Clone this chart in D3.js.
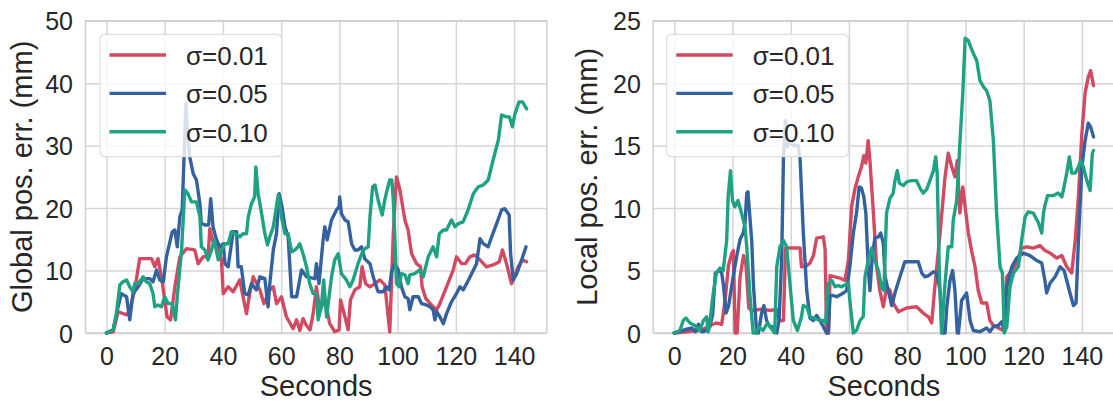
<!DOCTYPE html>
<html><head><meta charset="utf-8">
<script src="https://cdn.jsdelivr.net/npm/d3@7"></script>
<style>
html,body{margin:0;padding:0;background:#fff;}
svg{display:block;font-family:"Liberation Sans",Arial,sans-serif;}
</style></head>
<body>
<svg id="chart" width="1113" height="403"></svg>
<script>
// ---------------- data ----------------
const seriesLabels = ["σ=0.01", "σ=0.05", "σ=0.10"];
const seriesColors = ["#d24a61", "#34629e", "#1fa284"];
const xTicks = [0, 20, 40, 60, 80, 100, 120, 140];
const globalYTicks = [0, 10, 20, 30, 40, 50];
const localYTicks = [0, 5, 10, 15, 20, 25];
const xLabel = "Seconds";
const globalYLabel = "Global pos. err. (mm)";
const localYLabel = "Local pos. err. (mm)";

// Global position error (mm) — [seconds, value]
const globalS001 = [[0,0],[2.3,0.2],[4.0,3.4],[6.9,2.9],[8.0,3.7],[9.7,6.9],[11.4,11.9],[15.5,11.9],[16.6,10.6],[17.7,11.9],[18.9,9.0],[20.8,2.6],[22.0,2.1],[23.5,7.4],[25.2,12.2],[27.5,13.5],[30.3,13.3],[31.5,11.1],[33.2,12.2],[34.9,12.2],[35.5,16.7],[36.6,14.6],[37.8,14.9],[39.5,11.7],[40.1,6.3],[41.8,7.4],[43.5,6.6],[45.8,8.5],[46.7,6.3],[48.1,3.1],[49.2,6.3],[50.4,9.0],[52.7,6.9],[54.1,4.7],[56.1,6.9],[57.3,7.4],[58.4,4.7],[60.1,5.8],[61.8,2.6],[64.1,0.7],[65.3,2.1],[66.4,0.4],[67.5,2.3],[68.7,1.2],[69.9,0.5],[71.0,3.1],[72.1,7.4],[73.3,3.7],[75.0,5.3],[76.7,1.5],[78.4,0.2],[79.9,0.5],[80.4,5.3],[81.9,2.6],[83.0,0.5],[83.8,5.3],[85.3,6.9],[87.0,7.4],[87.8,10.6],[89.0,7.9],[90.5,7.4],[91.6,7.7],[93.9,8.5],[95.6,7.7],[96.4,4.2],[97.3,0.2],[98.5,15.9],[99.6,25.0],[100.8,22.9],[102.5,18.1],[103.6,16.5],[104.8,12.7],[106.5,11.1],[107.9,10.6],[108.4,7.4],[109.7,5.5],[111.6,4.5],[113.4,3.7],[114.5,4.7],[116.8,7.4],[119.1,10.1],[120.2,12.2],[122.0,11.1],[123.3,11.1],[124.8,12.2],[126.5,12.5],[128.3,11.7],[130.5,10.6],[132.8,10.9],[134.9,11.4],[136.0,13.3],[137.4,11.1],[139.1,7.9],[139.7,8.5],[141.4,10.6],[142.9,11.7],[144.3,11.4]];
const globalS005 = [[0,0],[2.3,0.5],[4.0,4.2],[5.1,6.3],[6.9,5.8],[8.0,2.1],[9.1,6.3],[10.9,7.4],[12.6,8.7],[14.9,8.7],[16.0,8.2],[17.2,10.1],[18.3,8.5],[19.5,8.2],[20.6,12.2],[22.6,16.2],[23.5,16.5],[24.3,13.8],[25.2,18.6],[26.0,19.7],[27.3,36.7],[27.7,33.0],[28.6,28.2],[29.8,25.5],[30.9,24.5],[32.1,20.7],[32.6,17.5],[33.8,17.3],[35.1,17.3],[35.8,21.5],[36.6,17.0],[37.8,14.9],[38.9,13.8],[40.1,14.3],[40.7,11.1],[41.8,10.6],[43.5,16.2],[44.7,16.2],[45.2,10.6],[46.3,10.6],[47.5,6.3],[48.7,6.1],[49.8,7.9],[51.5,6.9],[52.7,9.0],[54.4,8.7],[55.5,4.2],[56.1,7.9],[57.3,13.3],[58.4,15.9],[59.3,22.3],[60.3,20.2],[61.3,17.0],[62.4,15.4],[63.6,5.8],[65.3,5.8],[67.0,10.1],[68.7,9.0],[71.6,8.7],[72.1,11.1],[73.0,7.9],[74.4,14.9],[75.0,17.0],[75.8,14.9],[77.3,18.1],[79.0,19.7],[79.9,20.2],[80.1,21.8],[80.7,19.1],[81.9,18.1],[83.0,17.8],[84.2,14.3],[85.3,13.3],[86.4,13.3],[87.6,13.8],[88.7,11.9],[90.5,11.1],[91.6,9.0],[93.3,6.6],[95.0,6.6],[96.2,7.4],[97.1,6.9],[97.9,9.8],[99.0,11.1],[100.2,10.1],[101.3,7.4],[102.5,5.8],[103.6,5.5],[104.2,3.7],[105.3,5.8],[107.1,5.8],[108.2,4.7],[109.9,4.5],[111.1,4.2],[112.2,3.7],[112.8,2.1],[113.4,3.4],[114.5,2.6],[115.7,1.5],[116.8,3.1],[118.5,5.0],[120.2,6.3],[121.4,7.4],[122.5,6.9],[123.7,7.9],[125.4,9.5],[127.1,11.1],[128.3,15.1],[129.4,14.3],[131.1,13.8],[132.3,15.4],[134.0,17.5],[135.7,19.7],[136.8,19.9],[138.3,18.9],[138.8,12.7],[139.7,8.5],[140.9,9.5],[142.6,11.7],[144.1,13.8]];
const globalS010 = [[0,0],[2.3,0.5],[3.4,3.1],[4.6,7.7],[5.7,8.2],[6.9,8.5],[8.0,7.4],[9.1,6.6],[9.7,7.9],[10.9,7.9],[12.6,9.0],[13.7,8.2],[14.9,7.9],[16.0,6.3],[16.6,4.2],[17.7,4.5],[18.9,4.2],[20.0,5.8],[21.2,4.7],[22.6,4.7],[23.7,2.1],[24.4,6.3],[25.8,13.3],[26.9,22.9],[28.0,22.3],[29.2,21.0],[30.9,21.0],[32.1,18.6],[32.6,13.8],[33.8,13.3],[34.9,11.7],[36.1,13.3],[37.0,14.9],[38.4,11.7],[39.5,13.3],[40.7,14.3],[41.8,14.3],[42.9,16.2],[44.1,15.9],[45.8,15.4],[46.9,15.9],[48.1,15.9],[48.7,18.6],[49.8,20.7],[50.9,21.8],[51.3,26.6],[52.1,22.3],[53.3,19.1],[54.4,15.9],[55.3,14.1],[56.1,15.4],[57.3,17.0],[59.0,22.1],[60.1,18.6],[61.3,15.9],[62.4,15.9],[63.6,13.0],[64.7,13.3],[65.8,13.8],[66.4,14.3],[67.5,12.7],[68.7,10.6],[69.8,7.9],[71.0,6.3],[72.1,6.3],[72.7,2.1],[73.8,4.2],[74.6,8.5],[75.6,2.6],[77.3,9.0],[78.4,11.7],[79.6,12.7],[80.7,9.5],[82.4,8.5],[83.6,7.4],[84.7,8.5],[86.4,11.1],[88.2,13.3],[89.9,13.8],[90.5,18.6],[91.4,23.4],[92.2,23.7],[93.3,21.3],[94.7,18.9],[95.6,21.3],[96.4,22.9],[97.3,24.5],[98.0,24.5],[98.5,21.3],[99.0,15.9],[99.6,7.9],[100.5,7.4],[101.3,9.5],[102.5,9.3],[103.6,7.9],[104.2,9.3],[105.9,9.5],[107.6,10.1],[108.8,9.0],[110.5,12.2],[112.2,13.8],[113.4,12.2],[114.3,15.9],[115.7,16.5],[116.8,16.5],[118.5,18.1],[119.7,17.0],[120.8,17.5],[122.5,17.8],[124.2,19.7],[126.0,22.3],[127.7,23.4],[129.4,23.7],[131.1,24.5],[132.8,27.7],[134.6,30.9],[135.7,34.9],[137.4,34.6],[138.4,34.6],[139.4,33.0],[140.3,35.1],[141.7,37.0],[142.9,37.0],[144.3,35.9]];

// Local position error (mm) — [seconds, value]
const localS001 = [[0,0],[4.0,0.1],[8.0,0.2],[10.0,0.3],[12.2,0.6],[14.5,0.8],[16.3,0.7],[17.5,2.7],[18.6,5.4],[19.8,6.4],[20.3,6.6],[20.9,0],[21.6,0],[22.6,4.5],[23.8,6.2],[24.6,5.5],[25.6,2.0],[26.6,1.8],[30.0,1.9],[33.0,1.8],[35.2,1.9],[36.0,1.0],[37.5,1.0],[38.2,6.8],[40.0,6.8],[43.2,6.8],[43.7,5.3],[45.5,5.4],[46.6,5.6],[47.8,6.2],[48.9,7.6],[51.2,7.7],[51.8,6.7],[52.3,0],[53.0,0],[53.5,4.6],[56.9,4.4],[58.6,4.2],[59.8,5.8],[60.9,10.1],[62.1,11.6],[63.2,12.5],[64.3,13.3],[65.1,14.2],[65.8,13.6],[66.6,15.4],[67.2,13.8],[67.8,11.7],[68.4,9.6],[69.5,5.3],[70.6,3.4],[71.8,2.1],[73.0,3.7],[74.1,3.4],[75.2,2.4],[77.0,1.7],[79.8,2.0],[83.2,2.1],[85.5,1.6],[87.3,1.3],[88.4,0.8],[89.5,3.7],[91.3,8.0],[93.0,12.5],[94.1,14.4],[95.3,13.3],[96.4,12.5],[97.2,13.8],[98.1,9.6],[99.1,11.7],[99.9,10.1],[101.0,8.0],[102.1,6.6],[103.3,5.3],[104.4,3.4],[105.6,2.4],[107.3,2.4],[108.4,1.0],[109.6,0.6],[111.3,0.4],[113.0,0.2],[114.2,4.5],[115.9,5.0],[117.6,5.6],[119.3,6.8],[121.1,6.9],[123.3,6.8],[125.6,7.0],[127.3,6.6],[129.1,6.4],[131.4,6.0],[133.1,6.2],[134.8,5.3],[136.5,4.8],[137.7,7.4],[138.8,10.9],[140.0,16.0],[141.1,19.2],[142.2,20.5],[143.0,21.0],[144.0,19.8]];
const localS005 = [[0,0],[4.3,0.3],[6.1,0.4],[7.2,0.1],[8.3,0.7],[9.5,0.1],[11.0,0.2],[12.2,0.5],[13.2,1.5],[14.1,4.8],[15.7,5.0],[16.3,4.8],[16.9,3.8],[17.8,1.6],[18.6,2.1],[20.3,4.6],[21.5,6.2],[22.6,7.5],[23.7,8.0],[24.3,8.8],[24.9,11.2],[25.3,11.3],[25.7,10.1],[26.6,7.4],[27.2,3.8],[28.3,0],[28.9,0],[30.0,1.6],[30.8,2.2],[31.7,1.0],[32.9,0.5],[34.0,0.5],[35.2,0],[36.0,1.0],[36.9,6.0],[37.5,14.0],[38.2,17.0],[38.8,14.9],[39.8,15.3],[40.9,15.0],[42.6,15.0],[43.2,14.0],[44.3,8.1],[45.5,3.4],[46.6,1.2],[47.8,1.0],[48.9,1.4],[50.0,1.0],[51.2,0.5],[52.3,0],[52.9,0],[53.5,3.0],[54.6,3.0],[55.8,2.9],[58.1,3.2],[59.2,3.4],[60.3,5.3],[61.5,8.0],[62.6,9.6],[63.5,11.7],[64.3,11.6],[65.1,10.9],[65.8,9.6],[66.6,5.3],[67.2,3.4],[68.0,6.1],[68.9,7.6],[70.1,7.7],[70.9,8.0],[71.8,7.2],[72.4,4.5],[73.5,3.4],[74.7,2.2],[75.8,3.2],[77.5,4.5],[79.2,5.7],[81.5,5.7],[83.8,5.7],[85.0,4.8],[86.1,4.5],[87.3,4.6],[89.0,4.9],[90.1,4.8],[91.3,3.4],[92.0,0],[93.0,0],[93.6,2.1],[94.7,4.2],[95.6,5.0],[96.4,3.4],[97.2,0],[97.6,0],[98.7,2.6],[100.4,3.2],[101.6,1.0],[102.7,0.2],[105.0,0.1],[107.3,0.4],[108.4,0.1],[109.6,0.5],[111.3,0.6],[112.5,0.9],[113.3,0.2],[114.2,3.7],[115.9,5.3],[117.6,6.0],[119.9,6.4],[122.2,6.2],[124.5,5.8],[126.2,5.6],[127.3,4.2],[127.9,3.2],[129.1,4.0],[130.8,4.5],[132.5,5.3],[133.9,5.0],[134.8,4.2],[135.9,3.2],[137.1,2.2],[138.0,2.4],[138.8,7.4],[140.0,13.3],[141.1,15.4],[142.2,16.8],[143.0,16.5],[144.0,15.7]];
const localS010 = [[0,0],[1.9,0.2],[3.1,1.0],[4.0,1.2],[5.4,0.8],[7.1,0.6],[8.8,0.2],[10.0,1.0],[11.1,1.3],[11.7,0.1],[12.3,1.0],[13.4,3.2],[14.5,4.8],[15.7,5.2],[16.8,5.0],[18.0,7.4],[18.5,10.9],[19.3,13.0],[20.0,10.6],[20.8,10.1],[21.9,10.6],[23.1,9.6],[24.3,8.5],[24.9,6.9],[26.0,3.0],[27.1,0],[28.0,0],[29.0,0.5],[30.5,0.2],[32.0,0.8],[33.5,0.3],[34.5,0],[35.2,5.3],[36.3,6.9],[37.5,7.4],[38.6,6.9],[39.7,4.0],[40.9,1.0],[42.3,0.2],[43.7,1.3],[44.3,2.2],[45.5,2.1],[46.6,1.3],[48.0,1.2],[50.0,1.0],[51.2,1.0],[52.0,0.8],[52.9,4.0],[54.1,4.2],[55.2,3.7],[56.3,3.8],[57.5,3.7],[59.8,4.0],[60.3,2.6],[61.5,0],[62.6,0.2],[63.8,1.0],[64.9,1.3],[65.5,4.5],[66.6,5.8],[67.8,6.8],[68.9,5.8],[70.1,5.0],[71.2,3.7],[72.0,3.4],[72.9,9.6],[74.1,10.8],[75.2,11.2],[75.8,12.2],[76.6,13.0],[77.3,12.0],[78.7,11.8],[79.8,12.1],[81.5,12.2],[83.2,12.2],[84.4,11.6],[85.5,11.2],[86.7,11.5],[87.8,12.2],[89.0,13.0],[89.8,14.1],[90.3,12.8],[91.0,5.3],[91.8,0],[93.0,4.0],[94.1,6.9],[95.3,6.9],[95.8,9.0],[97.0,10.6],[98.1,15.2],[99.1,19.2],[99.9,23.6],[101.0,23.4],[101.8,22.9],[102.7,22.4],[103.9,21.8],[105.0,20.2],[106.2,19.7],[107.3,19.4],[108.4,18.6],[109.6,15.4],[110.7,9.6],[111.9,5.3],[112.7,4.8],[113.4,0],[114.2,0.5],[115.3,3.7],[116.5,4.8],[118.2,5.3],[119.3,7.4],[120.5,9.3],[121.6,9.7],[123.3,9.6],[125.1,8.8],[126.2,8.0],[126.8,9.6],[127.3,10.2],[128.2,11.0],[130.2,11.0],[131.9,11.2],[133.1,10.9],[133.6,11.4],[134.8,12.8],[135.7,14.1],[136.5,12.8],[137.7,12.8],[138.8,13.3],[139.6,13.8],[140.5,13.3],[141.7,12.2],[142.8,11.4],[143.6,14.4],[144.0,14.6]];

// ---------------- drawing ----------------
const svg = d3.select("#chart");
const TXT = "#262626", GRID = "#d6d6d6";

function panel(opt) {
  const {left, right, top, bottom, yMax, yTicks, yLabel, yLabelX, series, legendX} = opt;
  const x = d3.scaleLinear().domain([-7.2, 151.2]).range([left, right]);
  const y = d3.scaleLinear().domain([0, yMax]).range([bottom, top]);
  const g = svg.append("g");
  const clipId = "clip" + Math.round(left);
  svg.append("clipPath").attr("id", clipId).append("rect")
    .attr("x", left).attr("y", top - 2).attr("width", right - left).attr("height", bottom - top + 4);

  // y axis + horizontal grid
  const ya = g.append("g").attr("transform", `translate(${left},0)`)
    .call(d3.axisLeft(y).tickValues(yTicks).tickFormat(d3.format("d")).tickSize(-(right - left)).tickPadding(12.5));
  ya.select(".domain").remove();
  ya.selectAll("line").attr("stroke", GRID).attr("stroke-width", 1.5);
  ya.selectAll("text").attr("fill", TXT).style("font-size", "25px").attr("dy", "0.36em");

  // x axis + vertical grid
  const xa = g.append("g").attr("transform", `translate(0,${bottom})`)
    .call(d3.axisBottom(x).tickValues(xTicks).tickFormat(d3.format("d")).tickSize(-(bottom - top)).tickPadding(14));
  xa.select(".domain").remove();
  xa.selectAll("line").attr("stroke", GRID).attr("stroke-width", 1.5);
  xa.selectAll("text").attr("fill", TXT).style("font-size", "25px");

  // spines
  g.append("rect").attr("x", left).attr("y", top).attr("width", right - left).attr("height", bottom - top)
    .attr("fill", "none").attr("stroke", "#cfcfcf").attr("stroke-width", 1.5);

  // lines
  const line = d3.line().x(d => x(d[0])).y(d => y(d[1]));
  const lg = g.append("g").attr("clip-path", `url(#${clipId})`);
  series.forEach((s, i) => {
    lg.append("path").datum(s).attr("d", line).attr("fill", "none")
      .attr("stroke", seriesColors[i]).attr("stroke-width", 3.4)
      .attr("stroke-linejoin", "round").attr("stroke-linecap", "round");
  });

  // labels
  g.append("text").attr("x", (left + right) / 2).attr("y", 396)
    .attr("text-anchor", "middle").attr("fill", TXT).style("font-size", "29px").text(xLabel);
  g.append("text").attr("transform", `translate(${yLabelX},${(top + bottom) / 2}) rotate(-90)`)
    .attr("text-anchor", "middle").attr("fill", TXT).style("font-size", "29px").text(yLabel);

  // legend
  const lgd = g.append("g").attr("transform", `translate(${legendX},34.3)`);
  lgd.append("rect").attr("x", 0).attr("y", 0).attr("width", 181.7).attr("height", 122.4).attr("rx", 5)
    .attr("fill", "#ffffff").attr("fill-opacity", 0.8).attr("stroke", "#dedede").attr("stroke-width", 1.2);
  seriesLabels.forEach((lab, i) => {
    const yy = 20.7 + i * 38.4;
    lgd.append("line").attr("x1", 9.5).attr("x2", 66).attr("y1", yy).attr("y2", yy)
      .attr("stroke", seriesColors[i]).attr("stroke-width", 3.4);
    lgd.append("text").attr("x", 86).attr("y", yy + 10).attr("fill", TXT).style("font-size", "26px").text(lab);
  });
}

panel({left: 85.5, right: 546.7, top: 20.7, bottom: 333, yMax: 50, yTicks: globalYTicks,
  yLabel: globalYLabel, yLabelX: 32, series: [globalS001, globalS005, globalS010], legendX: 100});
panel({left: 653.3, right: 1114.5, top: 20.7, bottom: 333, yMax: 25, yTicks: localYTicks,
  yLabel: localYLabel, yLabelX: 597, series: [localS001, localS005, localS010], legendX: 666.7});
</script>
</body></html>
